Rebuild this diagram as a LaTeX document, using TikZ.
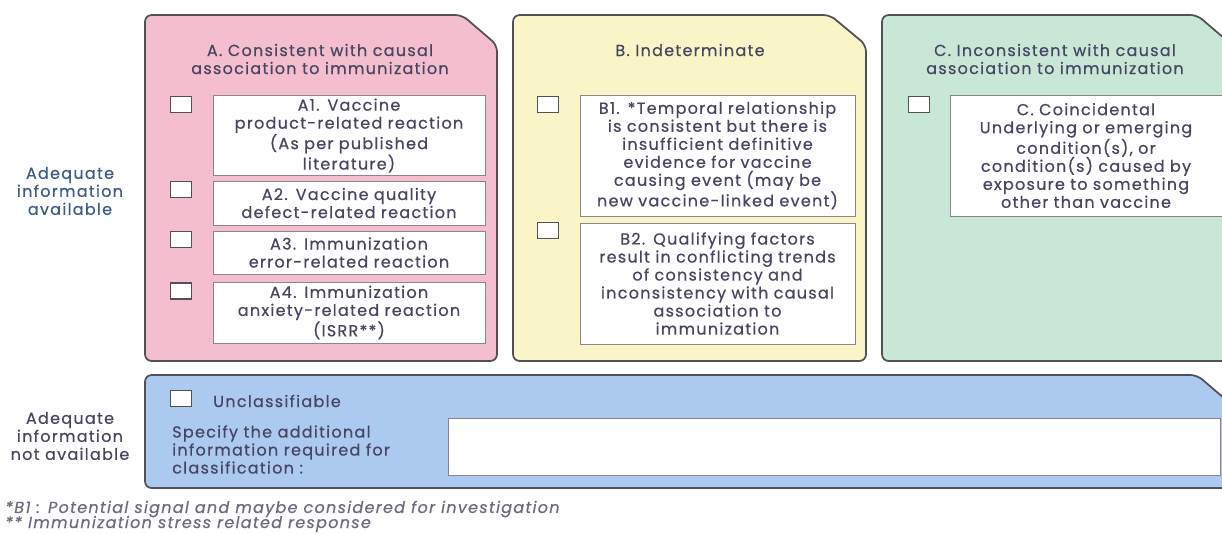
\documentclass[tikz,border=0pt]{standalone}
\usepackage{fontspec}
\setmainfont{Poppins}[LetterSpace=8,FakeBold=0.5]
\definecolor{pinkA}{RGB}{245,190,206}
\definecolor{yellowB}{RGB}{250,245,198}
\definecolor{greenC}{RGB}{200,231,215}
\definecolor{blueU}{RGB}{172,202,240}
\definecolor{edgegray}{RGB}{80,80,86}
\definecolor{boxline}{RGB}{135,135,140}
\definecolor{ink}{RGB}{70,70,96}
\definecolor{sideink}{RGB}{58,92,135}
\usetikzlibrary{positioning}
\tikzset{
  panel/.style={draw=edgegray,line width=1.3pt,rounded corners=5pt},
  itembox/.style 2 args={rectangle,draw=boxline,fill=white,line width=0.7pt,
              minimum width=#1*0.75pt,minimum height=#2*0.75pt,
              text width=#1*0.75pt-3pt,align=center,inner sep=0pt,
              text=ink,font=\fontsize{12}{13.5}\selectfont},
  chk/.style={rectangle,draw=edgegray,fill=white,line width=1pt,
              minimum width=15.5pt,minimum height=12pt,inner sep=0pt},
  heading/.style={align=center,text=ink,font=\fontsize{12}{13.5}\selectfont},
  sidelabel/.style={align=center,font=\fontsize{12}{13.5}\selectfont},
}

\begin{document}
\begin{tikzpicture}[x=0.75pt,y=-0.75pt,
      note/.style={anchor=west,text=ink!80,inner sep=0pt,
                   font=\fontsize{12}{13.5}\selectfont\itshape},
    ]
    \useasboundingbox (0,0) rectangle (1222,533);

    % panels
    \draw[panel,fill=pinkA]   (145,200) -- (145,15) -- (462,15) -- (497,45) -- (497,361) -- (145,361) -- cycle;
    \draw[panel,fill=yellowB] (513,200) -- (513,15) -- (830,15) -- (866,45) -- (866,361) -- (513,361) -- cycle;
    \draw[panel,fill=greenC]  (882,200) -- (882,15) -- (1197,15) -- (1232,45) -- (1232,361) -- (882,361) -- cycle;
    \draw[panel,fill=blueU]   (145,430) -- (145,375) -- (1197,375) -- (1232,405) -- (1232,488) -- (145,488) -- cycle;

    % headings
    \node[heading] (headA) at (320,59)  {A. Consistent with causal\\association to immunization};
    \node[heading] (headB) at (690,50)  {B. Indeterminate};
    \node[heading] (headC) at (1055,59) {C. Inconsistent with causal\\association to immunization};

    % side labels
    \node[sidelabel,text=sideink] (adequate)   at (70,191) {Adequate\\information\\available};
    \node[sidelabel,text=ink]     (inadequate) at (70,436) {Adequate\\information\\not available};

    % items
    \node[itembox={272}{80}]  (A1) at (349,135.5) {A1. Vaccine\\product-related reaction\\(As per published\\literature)};
    \node[itembox={272}{44}]  (A2) at (349,203)   {A2. Vaccine quality\\defect-related reaction};
    \node[itembox={272}{43}]  (A3) at (349,252.5) {A3. Immunization\\error-related reaction};
    \node[itembox={272}{61}]  (A4) at (349,312.5) {A4. Immunization\\anxiety-related reaction\\(ISRR**)};
    \node[itembox={275}{121}] (B1) at (717.5,155.5) {B1. *Temporal relationship\\is consistent but there is\\insufficient definitive\\evidence for vaccine\\causing event (may be\\new vaccine-linked event)};
    \node[itembox={275}{121}] (B2) at (717.5,283.5) {B2. Qualifying factors\\result in conflicting trends\\of consistency and\\inconsistency with causal\\association to\\immunization};
    \node[itembox={272}{121}] (C1) at (1086,155.5) {C. Coincidental\\Underlying or emerging\\condition(s), or\\condition(s) caused by\\exposure to something\\other than vaccine};
    \node[itembox={772}{57}]  (spec) at (834,446.5) {};

    % check boxes
    \node[chk] (chkA1) at (181,104.5) {};
    \node[chk] (chkA2) at (181,189.5) {};
    \node[chk] (chkA3) at (181,239.5) {};
    \node[chk] (chkA4) at (181,291)   {};
    \node[chk] (chkB1) at (548,104.5) {};
    \node[chk] (chkB2) at (548,230.5) {};
    \node[chk] (chkC1) at (919,104.5) {};
    \node[chk] (chkU)  at (181,398.5) {};

    % unclassifiable
    \node[heading,anchor=west,inner sep=0pt] (unclass) at (213,401) {Unclassifiable};
    \node[heading,anchor=west,align=left,inner sep=0pt] (specify) at (172,449.5) {Specify the additional\\information required for\\classification :};

    % footnotes
    \node[note] (fnB1)   at (5,509) {*B1 : Potential signal and maybe considered for investigation};
    \node[note] (fnISRR) at (5,524) {** Immunization stress related response};

  \end{tikzpicture}
\end{document}
